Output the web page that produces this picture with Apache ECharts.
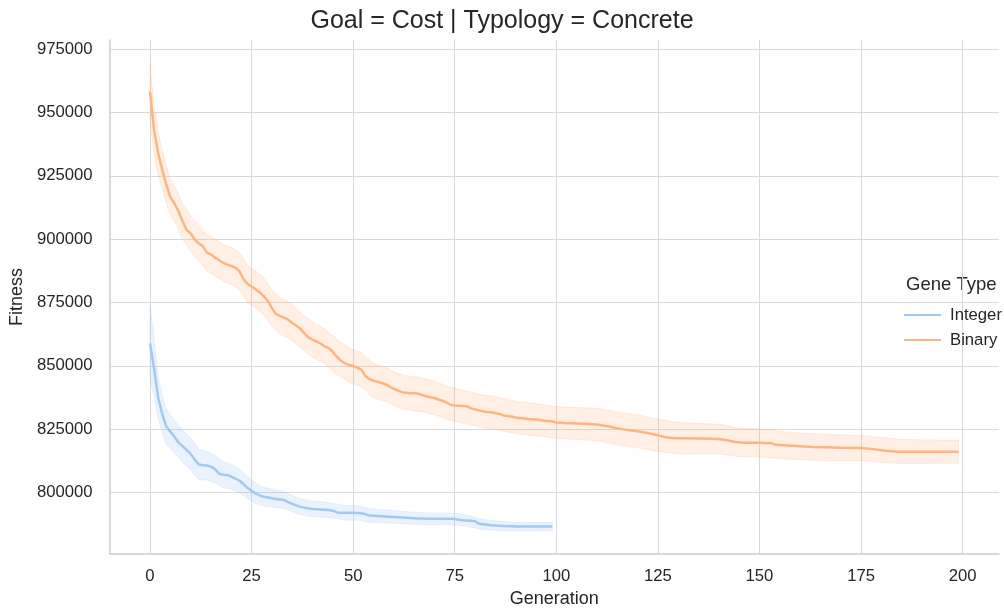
<!DOCTYPE html>
<html>
<head>
<meta charset="utf-8">
<script src="https://cdn.jsdelivr.net/npm/echarts@6/dist/echarts.min.js"></script>
<style>
html,body{margin:0;padding:0;background:#fff;}
#chart{width:1004px;height:613px;}
</style>
</head>
<body>
<div id="chart"></div>
<script>
// ---------- DATA ----------
const chartTitle = 'Goal = Cost | Typology = Concrete';
const seriesNames = ['Integer', 'Binary'];
const xTicks = [0, 25, 50, 75, 100, 125, 150, 175, 200];
const yTicks = [800000, 825000, 850000, 875000, 900000, 925000, 950000, 975000];

const integerGen = [0,1,2,3,4,5,6,7,8,9,10,11,12,13,14,15,16,17,18,19,20,21,22,23,24,25,26,27,28,29,30,31,32,33,34,35,36,37,38,39,40,41,42,43,44,45,46,47,48,49,50,51,52,53,54,55,56,57,58,59,60,61,62,63,64,65,66,67,68,70,72,74,75,76,77,78,79,80,81,82,83,84,85,86,87,88,89,90,92,95,99];
const integerFitness = [858800,849000,837500,831000,826000,824000,822000,819700,818300,816800,815200,813000,811000,810700,810600,810200,809200,807400,807000,806900,806200,805500,804700,803300,801800,800600,799600,798800,798300,798000,797700,797400,797200,797000,796200,795500,794900,794300,794000,793700,793500,793400,793300,793200,793100,792800,792100,792000,792000,792000,792000,791900,791800,791400,790900,790800,790700,790600,790500,790400,790300,790200,790100,790000,789900,789800,789700,789700,789600,789600,789600,789600,789500,789200,789000,788900,788800,788600,787600,787400,787200,787000,786900,786800,786700,786600,786600,786500,786500,786500,786500];

const integerBandGen = [0,1,2,3,4,5,6,8,10,12,14,16,18,20,22,24,26,28,30,33,36,39,42,45,48,51,54,57,60,63,66,69,72,75,78,81,84,87,90,93,96,99];
const integerLow  = [843800,838000,829000,823500,819000,817300,815500,811900,808900,805000,804900,803800,801900,801300,800100,797500,795600,794600,794200,793700,791700,790600,790300,789900,789100,789100,788200,788000,787800,787600,787300,787300,787300,787200,786700,785600,785100,784900,784800,784800,784900,784900];
const integerHigh = [873800,860000,846000,838500,833000,830700,828500,824700,821500,817000,816300,814600,812100,811100,809300,806100,803600,802000,801200,800300,798100,796800,796300,795700,794900,794700,793600,793200,792800,792400,792100,791900,791900,791800,791100,789600,788900,788500,788200,788200,788100,788100];

const binaryGen = [0,1,2,3,4,5,6,7,8,9,10,11,12,13,14,15,16,17,18,19,20,21,22,23,24,25,26,27,28,29,30,31,32,33,34,35,36,37,38,39,40,41,42,43,44,45,46,47,48,49,50,51,52,53,54,55,56,57,58,59,60,61,62,63,64,65,66,67,68,69,70,71,72,73,74,75,76,77,78,79,80,81,82,83,84,85,86,87,88,89,90,91,92,93,94,95,96,97,98,99,100,102,105,108,110,113,115,117,119,121,123,125,127,129,132,135,138,140,142,144,146,150,153,154,157,160,163,166,170,175,178,181,184,190,195,199];
const binaryFitness = [958300,943000,934000,927500,921600,916600,914100,911100,907100,903600,902300,899900,898300,897300,894700,894000,892700,891700,890700,890000,889400,888800,887400,884300,882300,881300,880200,879000,877500,875600,872800,870400,869700,869000,868200,866900,865800,864700,862800,861200,860300,859600,858700,857700,857000,855500,853500,852000,851000,850300,849900,849300,848500,846000,844800,844100,843700,843200,842700,841800,841000,840200,839600,839400,839200,839200,839000,838500,838000,837600,837300,836700,836200,835500,834600,834300,834200,834100,834000,833200,832800,832400,832000,831800,831700,831400,831000,830400,830200,830000,829600,829400,829200,829000,828900,828800,828600,828300,828200,828000,827600,827400,827200,827000,826800,826000,825300,824800,824400,823900,823300,822600,821800,821400,821400,821300,821200,821100,820600,819900,819600,819600,819400,818800,818500,818200,817900,817800,817600,817500,817100,816500,816100,816100,816100,816100];

const binaryBandGen = [0,1,2,3,4,5,6,8,10,12,14,16,18,20,22,24,26,28,30,32,34,36,38,40,43,46,49,52,55,58,61,64,67,70,73,76,79,82,85,88,91,94,97,100,105,110,115,120,125,130,135,140,145,150,155,160,165,170,175,180,185,190,195,199];
const binaryLow  = [947200,933500,925500,919700,914200,909500,907100,900100,895300,891300,887500,885400,883400,882100,880000,874900,872900,870200,865600,862500,861100,858700,855800,853300,850800,846600,843500,841700,837300,836000,833500,832500,831800,830700,828900,827600,826700,825500,824900,823800,823000,822500,822000,821300,820900,820400,818800,817600,816200,815200,815300,815300,814100,814100,813300,812900,812600,812500,812500,811900,811300,811400,811500,811500];
const binaryHigh = [969400,952500,942500,935300,929000,923700,921100,914100,909300,905300,901900,900000,898000,896700,894800,889700,887500,884800,880000,876900,875300,872900,869800,867300,864600,860400,857100,855300,850900,849400,846900,845900,845200,843900,842100,840800,839700,838500,837900,836600,835800,835300,834600,833900,833500,833200,831800,830600,829000,827600,827300,826900,825300,825100,824100,823500,823000,822700,822500,821700,820900,820800,820700,820700];

// ---------- STYLE ----------
const FONT = '"Liberation Sans", Arial, sans-serif';
const TXT = '#262626';
const colors = { Integer: '#a1c9f4', Binary: '#ffb482' };

function zip(a, b) { return a.map((v, i) => [v, b[i]]); }

function bandSeries(name, gens, lo, hi, color) {
  return {
    type: 'custom',
    name: name + ' band',
    z: 1,
    silent: true,
    data: [[gens[0], hi[0]]],
    encode: { x: 0, y: 1 },
    renderItem: function (params, api) {
      const pts = [];
      for (let i = 0; i < gens.length; i++) pts.push(api.coord([gens[i], hi[i]]));
      for (let i = gens.length - 1; i >= 0; i--) pts.push(api.coord([gens[i], lo[i]]));
      return {
        type: 'polygon',
        shape: { points: pts },
        style: { fill: color, stroke: color, lineWidth: 1, opacity: 0.22 }
      };
    }
  };
}

const chart = echarts.init(document.getElementById('chart'), null, { renderer: 'canvas' });
chart.setOption({
  animation: false,
  backgroundColor: '#ffffff',
  title: {
    text: chartTitle,
    left: 'center',
    top: 4,
    textStyle: { fontFamily: FONT, fontSize: 25, fontWeight: 'normal', color: TXT }
  },
  grid: { left: 108, right: 5, top: 40, bottom: 58, containLabel: false },
  xAxis: {
    type: 'value',
    min: -9.95,
    max: 208.95,
    minInterval: 25,
    maxInterval: 25,
    name: 'Generation',
    nameLocation: 'middle',
    nameGap: 36,
    nameTextStyle: { fontFamily: FONT, fontSize: 18, color: TXT },
    axisLine: { show: true, onZero: false, lineStyle: { color: '#cccccc', width: 1.5 } },
    axisTick: { show: false },
    axisLabel: { fontFamily: FONT, fontSize: 16.7, color: TXT, margin: 14,
      formatter: v => (xTicks.indexOf(v) >= 0 ? String(v) : '') },
    splitLine: { show: true, showMinLine: false, showMaxLine: false, lineStyle: { color: '#d9d9d9', width: 1 } }
  },
  yAxis: {
    type: 'value',
    min: 775684,
    max: 978665,
    minInterval: 25000,
    maxInterval: 25000,
    name: 'Fitness',
    nameLocation: 'middle',
    nameGap: 81,
    nameTextStyle: { fontFamily: FONT, fontSize: 18, color: TXT },
    axisLine: { show: true, onZero: false, lineStyle: { color: '#cccccc', width: 1.5 } },
    axisTick: { show: false },
    axisLabel: { fontFamily: FONT, fontSize: 16.7, color: TXT, margin: 17,
      formatter: v => (yTicks.indexOf(v) >= 0 ? String(v) : '') },
    splitLine: { show: true, showMinLine: false, showMaxLine: false, lineStyle: { color: '#d9d9d9', width: 1 } }
  },
  legend: {
    orient: 'vertical',
    left: 899,
    top: 300,
    icon: 'rect',
    itemWidth: 37,
    itemHeight: 2,
    itemGap: 5,
    data: seriesNames,
    textStyle: { fontFamily: FONT, fontSize: 16.7, color: TXT, lineHeight: 20, padding: [0, 0, 0, 4] }
  },
  graphic: [{
    type: 'text',
    left: 906,
    top: 275,
    style: { text: 'Gene Type', fontFamily: FONT, fontSize: 18.5, fill: TXT }
  }],
  series: [
    bandSeries('Integer', integerBandGen, integerLow, integerHigh, colors.Integer),
    bandSeries('Binary', binaryBandGen, binaryLow, binaryHigh, colors.Binary),
    {
      type: 'line', name: 'Integer', data: zip(integerGen, integerFitness),
      symbol: 'none', z: 3, color: colors.Integer,
      lineStyle: { width: 2.5, color: colors.Integer }, itemStyle: { color: colors.Integer }
    },
    {
      type: 'line', name: 'Binary', data: zip(binaryGen, binaryFitness),
      symbol: 'none', z: 3, color: colors.Binary,
      lineStyle: { width: 2.5, color: colors.Binary }, itemStyle: { color: colors.Binary }
    }
  ]
});
</script>
</body>
</html>
